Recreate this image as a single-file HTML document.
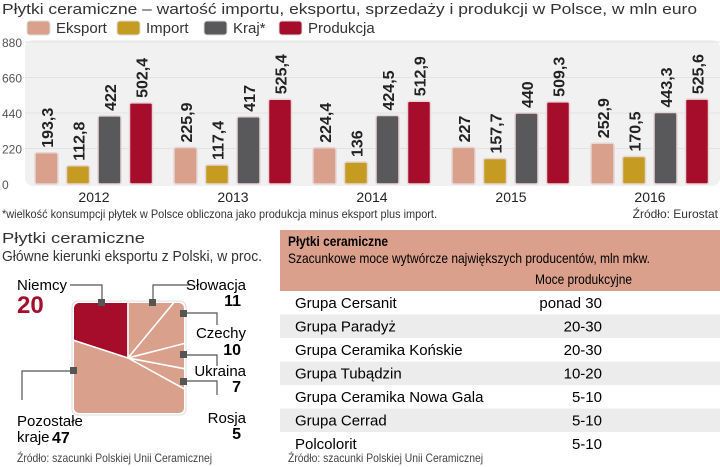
<!DOCTYPE html>
<html><head><meta charset="utf-8"><style>
html,body{margin:0;width:720px;height:467px;overflow:hidden}
body{background:#fff;font-family:"Liberation Sans",sans-serif;position:relative;color:#222}
</style></head><body>
<svg width="720" height="467" style="position:absolute;left:0;top:0;display:block">
<text x="2" y="14" font-size="15" fill="#333" textLength="695" lengthAdjust="spacingAndGlyphs">Płytki ceramiczne – wartość importu, eksportu, sprzedaży i produkcji w Polsce, w mln euro</text>
<g id="legend"></g>
<rect x="25" y="40" width="695" height="146" rx="8" fill="#f1f1f1"/>
<g id="grid"></g><g id="bars"></g>
<text x="2" y="218" font-size="12" fill="#333" textLength="435" lengthAdjust="spacingAndGlyphs">*wielkość konsumpcji płytek w Polsce obliczona jako produkcja minus eksport plus import.</text>
<text x="718" y="218" font-size="12" fill="#333" text-anchor="end">Źródło:  Eurostat</text>
<text x="2" y="243" font-size="15" fill="#333" textLength="143" lengthAdjust="spacingAndGlyphs">Płytki ceramiczne</text>
<text x="2" y="261" font-size="15" fill="#333" textLength="260" lengthAdjust="spacingAndGlyphs">Główne kierunki eksportu z Polski, w proc.</text>
<defs><clipPath id="sq"><rect x="74" y="303" width="110" height="110" rx="5"/></clipPath></defs>
<rect x="72" y="301" width="114" height="114" rx="6" fill="#fff" stroke="#ddd"/>
<g id="pie" clip-path="url(#sq)"></g>
<g stroke="#555" fill="none" stroke-width="1.2">
<polyline points="70,285 102,285 102,303"/><polyline points="190,285 153,285 153,303"/>
<polyline points="184,313 217,313 217,325"/><polyline points="184,355 217,355 217,366"/>
<polyline points="184,381 217,381 217,395"/><polyline points="74,371 22,371 22,400"/>
</g>
<g fill="#555"><rect x="98" y="299" width="7" height="7"/><rect x="149" y="299" width="7" height="7"/><rect x="180" y="310" width="7" height="7"/><rect x="180" y="351" width="7" height="7"/><rect x="180" y="378" width="7" height="7"/><rect x="70" y="367" width="7" height="7"/></g>
<text x="17" y="290" font-size="15">Niemcy</text>
<text x="17" y="313" font-size="24" font-weight="bold" fill="#a50d2a">20</text>
<text x="246" y="290" font-size="15" text-anchor="end">Słowacja</text>
<text x="241" y="306" font-size="16" font-weight="bold" text-anchor="end">11</text>
<text x="246" y="338" font-size="15" text-anchor="end">Czechy</text>
<text x="241" y="355" font-size="16" font-weight="bold" text-anchor="end">10</text>
<text x="246" y="376" font-size="15" text-anchor="end">Ukraina</text>
<text x="241" y="392" font-size="16" font-weight="bold" text-anchor="end">7</text>
<text x="246" y="423" font-size="15" text-anchor="end">Rosja</text>
<text x="241" y="439" font-size="16" font-weight="bold" text-anchor="end">5</text>
<text x="17" y="426" font-size="15">Pozostałe</text>
<text x="17" y="442" font-size="15">kraje</text>
<text x="52" y="443" font-size="16" font-weight="bold">47</text>
<text x="17" y="462" font-size="12" fill="#444" textLength="195" lengthAdjust="spacingAndGlyphs">Źródło: szacunki Polskiej Unii Ceramicznej</text>
<rect x="280" y="230" width="440" height="61" fill="#dba08b"/>
<text x="288" y="246" font-size="14" font-weight="bold" textLength="100" lengthAdjust="spacingAndGlyphs">Płytki ceramiczne</text>
<text x="288" y="263" font-size="14" textLength="362" lengthAdjust="spacingAndGlyphs">Szacunkowe moce wytwórcze największych producentów, mln mkw.</text>
<text x="535" y="284" font-size="14" textLength="97" lengthAdjust="spacingAndGlyphs">Moce produkcyjne</text>
<g id="tbl"></g>
<text x="288" y="462" font-size="12" fill="#444" textLength="195" lengthAdjust="spacingAndGlyphs">Źródło: szacunki Polskiej Unii Ceramicznej</text>
</svg>
<script>
const NS="http://www.w3.org/2000/svg";
const years=["2012","2013","2014","2015","2016"];
const eksport=[193.3,225.9,224.4,227,252.9];
const importV=[112.8,117.4,136,157.7,170.5];
const kraj=[422,417,424.5,440,443.3];
const produkcja=[502.4,525.4,512.9,509.3,525.6];
const ticks=[0,220,440,660,880];
const seriesNames=["Eksport","Import","Kraj*","Produkcja"];
const colors=["#d9a08c","#c59b22","#59595b","#a50d2a"];
const pieLabels=["Niemcy","Słowacja","Czechy","Ukraina","Rosja","Pozostałe kraje"];
const pieValues=[20,11,10,7,5,47];
const companies=["Grupa Cersanit","Grupa Paradyż","Grupa Ceramika Końskie","Grupa Tubądzin","Grupa Ceramika Nowa Gala","Grupa Cerrad","Polcolorit"];
const capacities=["ponad 30","20-30","20-30","10-20","5-10","5-10","5-10"];
function mk(t,a,p){const e=document.createElementNS(NS,t);for(const k in a)e.setAttribute(k,a[k]);p.appendChild(e);return e;}
const y0=184,yMax=880,h=142;
const ys=v=>y0-v/yMax*h;
const grid=document.getElementById('grid');
ticks.forEach(t=>{
 if(t>0){const l=mk('line',{x1:25,x2:720,y1:ys(t),y2:ys(t),stroke:'#e2e2e2'},grid);
 
 }
 const tx=mk('text',{x:2,y:ys(t)+5,'font-size':12,fill:'#555'},grid);tx.textContent=t;
 
 
});
const lg=document.getElementById('legend');const lx=[27,117,204,279];
seriesNames.forEach((n,i)=>{
 const r=mk('rect',{x:lx[i],y:21,width:23,height:14,rx:3,fill:colors[i],stroke:'#ddd'},lg);
 
 
 const t=mk('text',{x:lx[i]+29,y:33,'font-size':15,fill:'#333'},lg);t.textContent=n;
 
 
});
const bars=document.getElementById('bars');
const series=[eksport,importV,kraj,produkcja];
const fmt=v=>String(v).replace('.',',');
years.forEach((yr,g)=>{
 const gx=35+g*139;
 series.forEach((s,i)=>{
  const x=gx+i*31.5,v=s[g],top=ys(v);
  const r=mk('rect',{x:x,y:top,width:23,height:y0-top,rx:2,fill:colors[i],stroke:'#e8d6d6','stroke-width':1.5},bars);
  
  
  const t=mk('text',{x:0,y:0,'font-size':16,'font-weight':'bold',fill:'#222',transform:`translate(${x+18},${top-5}) rotate(-90)`},bars);t.textContent=fmt(v);
  
  
 });
 const t=mk('text',{x:gx+59,y:202,'font-size':14,'text-anchor':'middle',fill:'#222'},bars);t.textContent=yr;
 
 
});
const pie=document.getElementById('pie');const cx=128,cy=358,R=200;
const pt=a=>[cx+R*Math.sin(a),cy-R*Math.cos(a)];
let start=-pieValues[0]/100*2*Math.PI;
pieValues.forEach((v,i)=>{
 const a0=start,a1=start+v/100*2*Math.PI;start=a1;
 const p0=pt(a0),p1=pt(a1),large=(a1-a0)>Math.PI?1:0;
 const p=mk('path',{d:`M${cx},${cy}L${p0[0]},${p0[1]}A${R},${R} 0 ${large} 1 ${p1[0]},${p1[1]}Z`,fill:i==0?'#a50d2a':'#d9a08c',stroke:'#fff','stroke-width':1.5},pie);
 
 
});
const tbl=document.getElementById('tbl');
companies.forEach((c,i)=>{
 const y=291+i*23.5;
 if(i%2==1){const r=mk('rect',{x:280,y:y,width:440,height:23.5,fill:'#ececec'},tbl);
  
  }
 const a=mk('text',{x:295,y:y+17,'font-size':15},tbl);a.textContent=c;
 
 
 const b=mk('text',{x:602,y:y+17,'font-size':15,'text-anchor':'end'},tbl);b.textContent=capacities[i];
 
 
});
</script>
</body></html>
